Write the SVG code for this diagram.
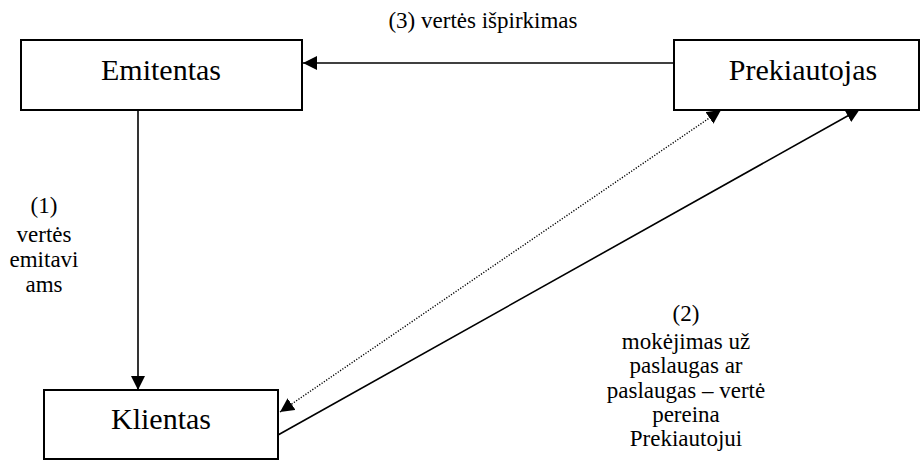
<svg xmlns="http://www.w3.org/2000/svg" width="921" height="461" viewBox="0 0 921 461">
<defs>
<marker id="ah" markerUnits="userSpaceOnUse" markerWidth="14" markerHeight="14" refX="14" refY="7" orient="auto-start-reverse" viewBox="0 0 14 14">
<path d="M0,0 L14,7 L0,14 z" fill="#000"/>
</marker>
</defs>
<rect width="921" height="461" fill="#fff"/>
<g id="connectors" fill="none" stroke="#000" stroke-width="1.6">
<line x1="674" y1="63" x2="303" y2="63" marker-end="url(#ah)"/>
<line x1="138" y1="110" x2="138" y2="390" marker-end="url(#ah)"/>
<line x1="280" y1="412" x2="721" y2="110" stroke-width="1.4" stroke-dasharray="1.2 1.6" marker-start="url(#ah)" marker-end="url(#ah)"/>
<line x1="278" y1="435" x2="860" y2="109" marker-end="url(#ah)"/>
</g>
<g font-family="Liberation Serif, Times New Roman, serif" text-anchor="middle" fill="#000">
<g id="emitentas">
<rect x="21" y="40" width="281" height="70" fill="#fff" stroke="#000" stroke-width="2"/>
<text x="161" y="80" font-size="30">Emitentas</text>
</g>
<g id="prekiautojas">
<rect x="674" y="40" width="245" height="70" fill="#fff" stroke="#000" stroke-width="2"/>
<text x="803" y="80" font-size="30">Prekiautojas</text>
</g>
<g id="klientas">
<rect x="44" y="390" width="234" height="69" fill="#fff" stroke="#000" stroke-width="2"/>
<text x="161" y="429" font-size="30">Klientas</text>
</g>
<g id="labels" font-size="23">
<text x="483" y="28">(3) vert&#279;s i&#353;pirkimas</text>
<text x="44" y="213">(1)</text>
<text x="44" y="242">vert&#279;s</text>
<text x="44" y="267">emitavi</text>
<text x="44" y="292">ams</text>
<text x="686" y="321">(2)</text>
<text x="686" y="349">mok&#279;jimas u&#382;</text>
<text x="686" y="373">paslaugas ar</text>
<text x="686" y="398">paslaugas &#8211; vert&#279;</text>
<text x="686" y="422">pereina</text>
<text x="686" y="446">Prekiautojui</text>
</g>
</g>
</svg>
